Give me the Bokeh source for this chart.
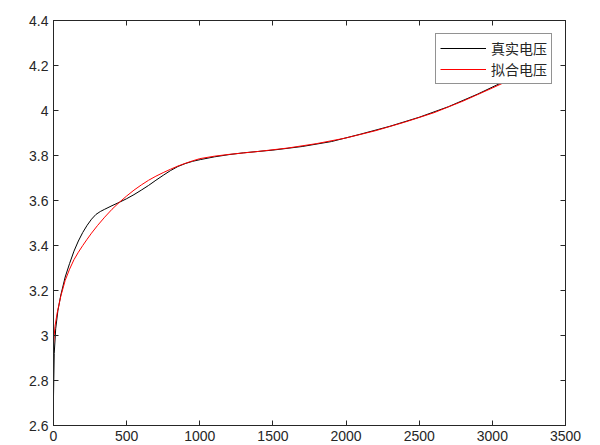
from bokeh.plotting import figure
from bokeh.models import LinearAxis, FixedTicker, CustomJSTickFormatter, Range1d, Legend, LegendItem
from bokeh.embed import file_html
from bokeh.resources import INLINE

# Real voltage (black)
real_x = [0, 5, 15, 30, 50, 80, 110, 140, 170, 200, 230, 260, 290, 320, 350, 400,
          450, 500, 550, 600, 650, 700, 750, 800, 850, 900, 950, 1005, 1100, 1200,
          1300, 1400, 1500, 1700, 1900, 2100, 2300, 2500, 2700, 2900, 3100, 3250]
real_y = [2.73, 2.92, 3.03, 3.11, 3.18, 3.26, 3.32, 3.375, 3.42, 3.458, 3.49, 3.517,
          3.538, 3.551, 3.561, 3.577, 3.592, 3.608, 3.626, 3.646, 3.667, 3.69, 3.712,
          3.733, 3.751, 3.764, 3.774, 3.782, 3.794, 3.804, 3.812, 3.818, 3.824, 3.84,
          3.862, 3.895, 3.93, 3.97, 4.017, 4.073, 4.135, 4.18]

# Fitted voltage (red)
fit_x = [0, 10, 25, 50, 80, 110, 140, 170, 200, 230, 260, 300, 350, 400, 450, 500,
         550, 600, 650, 700, 750, 800, 850, 900, 950, 1000, 1100, 1200, 1400, 1600,
         1800, 2000, 2200, 2400, 2600, 2800, 3000, 3200, 3270]
fit_y = [2.96, 3.04, 3.1, 3.175, 3.245, 3.295, 3.337, 3.37, 3.4, 3.428, 3.455, 3.488,
         3.526, 3.561, 3.592, 3.62, 3.646, 3.669, 3.69, 3.708, 3.724, 3.739, 3.753,
         3.765, 3.776, 3.786, 3.797, 3.805, 3.818, 3.833, 3.853, 3.878, 3.91, 3.948,
         3.99, 4.042, 4.1, 4.16, 4.18]

x_ticks = [0, 500, 1000, 1500, 2000, 2500, 3000, 3500]
y_ticks = [2.6, 2.8, 3.0, 3.2, 3.4, 3.6, 3.8, 4.0, 4.2, 4.4]
legend_labels = ["真实电压", "拟合电压"]

AX = "#262626"

p = figure(frame_width=512, frame_height=405, output_backend="svg", toolbar_location=None,
           x_range=Range1d(0, 3500), y_range=Range1d(2.6, 4.4),
           x_axis_location=None, y_axis_location=None,
           min_border_left=53, min_border_top=20, min_border_right=20, min_border_bottom=10)
p.background_fill_color = "white"
p.border_fill_color = "white"
p.outline_line_color = AX
p.outline_line_width = 1
p.xgrid.visible = False
p.ygrid.visible = False

fmt = CustomJSTickFormatter(code="return String(Number(tick.toFixed(2)));")
blank = CustomJSTickFormatter(code="return '';")

def make_axis(ticks, show_labels):
    ax = LinearAxis(ticker=FixedTicker(ticks=ticks), formatter=fmt if show_labels else blank)
    ax.axis_line_color = AX
    ax.major_tick_line_color = AX
    ax.major_tick_in = 5
    ax.major_tick_out = 0
    ax.minor_tick_line_color = None
    ax.major_label_text_font = "Liberation Sans"
    ax.major_label_text_color = AX
    ax.major_label_text_font_size = "14px"
    ax.major_label_standoff = 5 if show_labels else 0
    return ax

p.add_layout(make_axis(x_ticks, True), "below")
p.add_layout(make_axis(y_ticks, True), "left")
p.add_layout(make_axis(x_ticks, False), "above")
p.add_layout(make_axis(y_ticks, False), "right")

r1 = p.line(real_x, real_y, line_color="black", line_width=1)
r2 = p.line(fit_x, fit_y, line_color="#ff0000", line_width=1)

legend = Legend(items=[LegendItem(label=legend_labels[0], renderers=[r1]),
                       LegendItem(label=legend_labels[1], renderers=[r2])],
                location="top_right")
legend.margin = 13
legend.padding = 4
legend.spacing = 1
legend.glyph_width = 46
legend.glyph_height = 16
legend.label_height = 16
legend.label_standoff = 5
legend.label_text_font = "Noto Sans CJK SC"
legend.label_text_font_size = "14px"
legend.label_text_color = AX
legend.border_line_color = AX
legend.border_line_width = 1
legend.background_fill_color = "white"
legend.background_fill_alpha = 1
p.add_layout(legend, "center")

open("out.html", "w").write(file_html(p, INLINE))
